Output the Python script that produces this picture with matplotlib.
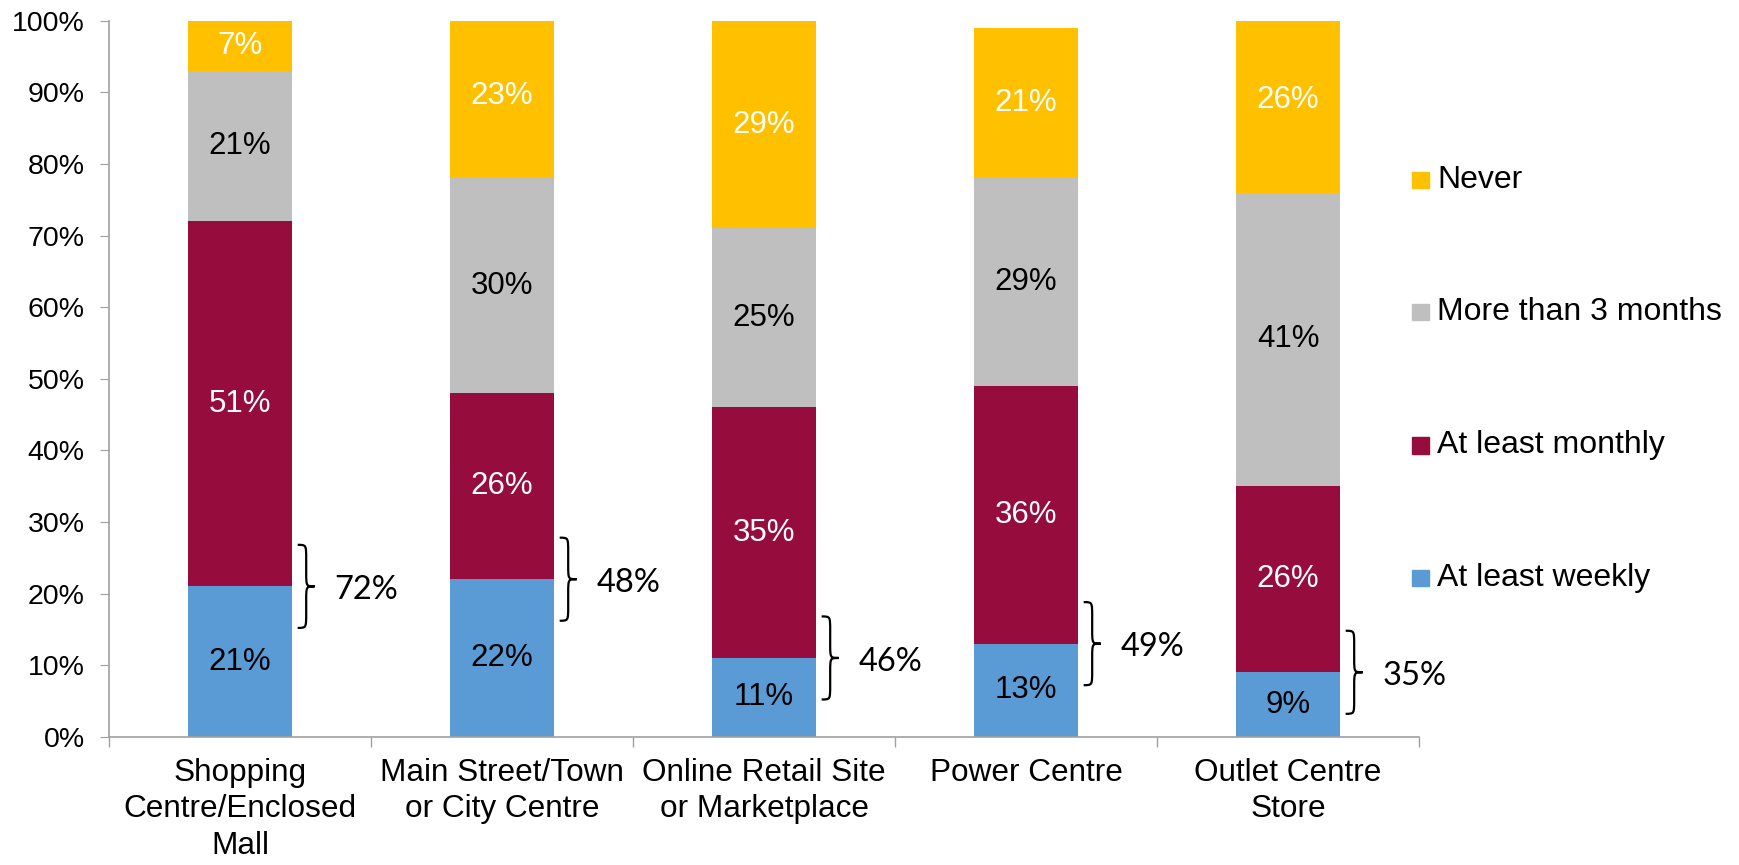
import numpy as np
from matplotlib import pyplot as plt
from matplotlib.path import Path
from matplotlib.patches import PathPatch, Rectangle

plt.rcParams['font.family'] = ['Liberation Sans', 'DejaVu Sans']

categories = ['Shopping\nCentre/Enclosed\nMall', 'Main Street/Town\nor City Centre',
              'Online Retail Site\nor Marketplace', 'Power Centre', 'Outlet Centre\nStore']
series_names = ['At least weekly', 'At least monthly', 'More than 3 months', 'Never']
weekly = [21, 22, 11, 13, 9]
monthly = [51, 26, 35, 36, 26]
more3 = [21, 30, 25, 29, 41]
never = [7, 23, 29, 21, 26]
colours = ['#5B9BD5', '#960C3D', '#BFBFBF', '#FFC000']
label_colours = ['black', 'white', 'black', 'white']

fig = plt.figure(figsize=(17.39, 8.65), dpi=100)
ax = fig.add_axes([0.0627, 0.1483, 0.7533, 0.8277])

x = np.arange(len(categories))
bottom = np.zeros(len(categories))
for vals, col, lc in zip([weekly, monthly, more3, never], colours, label_colours):
    vals = np.array(vals, dtype=float)
    ax.bar(x, vals, 0.4, bottom=bottom, color=col, zorder=2)
    for xi, b, v in zip(x, bottom, vals):
        ax.text(xi, b + v / 2, '%d%%' % v, ha='center', va='center',
                color=lc, fontsize=22.5)
    bottom += vals

# braces showing weekly + monthly totals
half = 5.8
bw = 0.065
for xi, w, m in zip(x, weekly, monthly):
    x0 = xi + 0.2 + 0.02
    top, mid, bot = w + half, w, w - half
    r = 2.0
    xm = x0 + bw / 2
    verts = [(x0, top), (xm, top), (xm, top), (xm, top - r),
             (xm, mid + r),
             (xm, mid), (xm, mid), (x0 + bw, mid),
             (xm, mid), (xm, mid), (xm, mid - r),
             (xm, bot + r),
             (xm, bot), (xm, bot), (x0, bot)]
    codes = [Path.MOVETO, Path.CURVE4, Path.CURVE4, Path.CURVE4,
             Path.LINETO,
             Path.CURVE4, Path.CURVE4, Path.CURVE4,
             Path.CURVE4, Path.CURVE4, Path.CURVE4,
             Path.LINETO,
             Path.CURVE4, Path.CURVE4, Path.CURVE4]
    ax.add_patch(PathPatch(Path(verts, codes), fill=False, lw=1.6,
                           edgecolor='black', clip_on=False, zorder=3))
    ax.text(x0 + bw + 0.075, mid - 0.5, '%d%%' % (w + m), ha='left', va='center',
            fontsize=23.5, family=['Lato', 'DejaVu Sans'])

ax.set_xlim(-0.5, len(categories) - 0.5)
ax.set_ylim(0, 100)
ax.set_yticks(np.arange(0, 101, 10))
ax.set_yticklabels(['%d%%' % v for v in range(0, 101, 10)])
ax.tick_params(axis='y', labelsize=20.5, length=6.5, color='#A0A0A0', pad=11)

ax.set_xticks(x)
ax.set_xticklabels(categories, fontsize=22.7, linespacing=1.3)
ax.tick_params(axis='x', which='major', length=0, pad=15)
ax.set_xticks(np.arange(-0.5, len(categories)), minor=True)
ax.tick_params(axis='x', which='minor', length=7, color='#A0A0A0', width=1)

for s in ['top', 'right']:
    ax.spines[s].set_visible(False)
for s in ['left', 'bottom']:
    ax.spines[s].set_color('#A0A0A0')
    ax.spines[s].set_linewidth(1.2)

# legend on the right, top to bottom
leg_y = [0.7919, 0.6393, 0.4855, 0.3318]
for name, col, ly in zip(series_names[::-1], colours[::-1], leg_y):
    fig.add_artist(Rectangle((0.812, ly - 0.0098), 0.0098, 0.0196,
                             transform=fig.transFigure, color=col))
    fig.text(0.8263, ly, name, ha='left', va='center', fontsize=23)

plt.savefig('out.png', dpi=100)
plt.close()
